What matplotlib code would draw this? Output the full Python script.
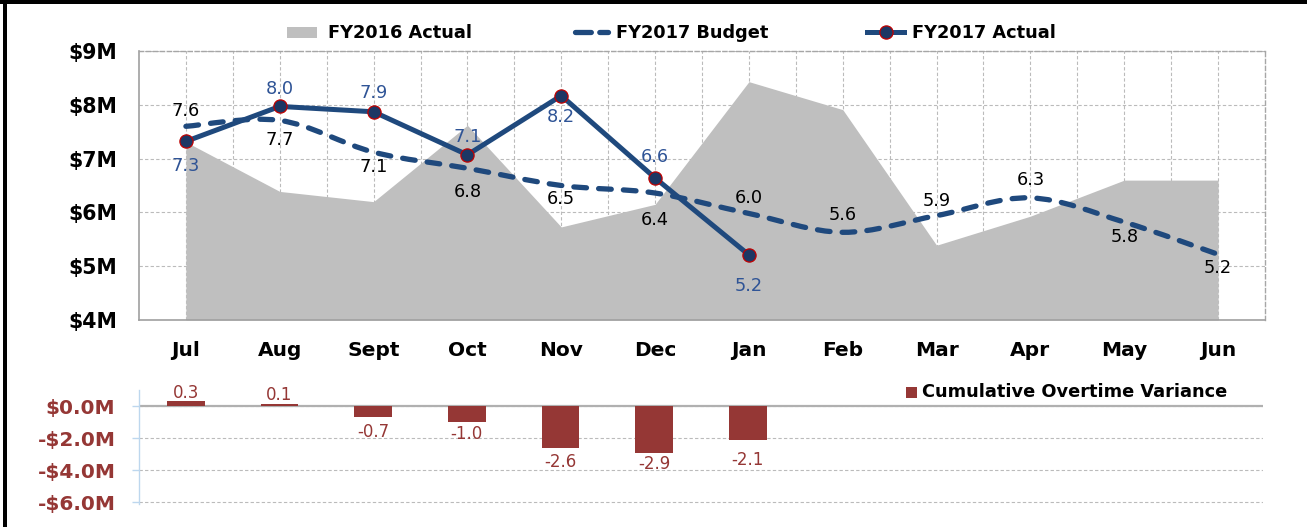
import numpy as np
import matplotlib
matplotlib.use("Agg")
import matplotlib.pyplot as plt
from matplotlib.path import Path
from matplotlib.patches import PathPatch, Rectangle
from matplotlib.lines import Line2D

# ---------------- data ----------------
months = ["Jul", "Aug", "Sept", "Oct", "Nov", "Dec", "Jan", "Feb", "Mar", "Apr", "May", "Jun"]
fy2016_actual = [7.31, 6.39, 6.20, 7.62, 5.73, 6.15, 8.43, 7.91, 5.39, 5.93, 6.60, 6.60]
fy2017_budget = [7.60, 7.71, 7.12, 6.82, 6.50, 6.36, 5.98, 5.63, 5.94, 6.27, 5.82, 5.22]
fy2017_actual = [7.32, 7.97, 7.87, 7.07, 8.17, 6.64, 5.21]
ot_variance = [0.3, 0.1, -0.7, -1.0, -2.6, -2.9, -2.1]

top_ticks = [4, 5, 6, 7, 8, 9]
top_tick_labels = ["$4M", "$5M", "$6M", "$7M", "$8M", "$9M"]
bot_ticks = [0, -2, -4, -6]
bot_tick_labels = ["$0.0M", "-$2.0M", "-$4.0M", "-$6.0M"]

# label offsets (pixels, + = up)
actual_lbl_off = [-25, 17, 19, 18, -21, 21, -31]
budget_lbl_off = [15, -20, -15, -24, -14, -27, 15, 17, 15, 18, -15, -14]
var_lbl_off = [8, 9, -15, -12, -14, -11, -20]

# ---------------- style ----------------
W, H = 1307, 527
NAVY = "#1F497D"
MARKER_FACE = "#1C3764"
RED_EDGE = "#C00000"
GRAY_AREA = "#BFBFBF"
GRID = "#BBBBBB"
FRAME = "#A6A6A6"
BAR = "#953735"
LBL_BLUE = "#2F5496"
DASH_GRID = (0, (3.0, 2.0))
BUDGET_DASH = (0, (2.4, 2.3))

plt.rcParams["font.family"] = ["DejaVu Sans"]

fig = plt.figure(figsize=(W / 100, H / 100), dpi=100)


def fx(px):
    return px / W


def fy(py):
    return 1 - py / H


# ---------------- top chart ----------------
ax = fig.add_axes([fx(139), fy(320), fx(1265) - fx(139), fy(51) - fy(320)])
x = np.arange(len(months))
ax.set_xlim(-0.5, 11.5)
ax.set_ylim(4, 9)

ax.fill_between(x, fy2016_actual, 4, color=GRAY_AREA, lw=0, zorder=1)

# smoothed budget line (Bezier through data points)
pts = np.column_stack([x, fy2017_budget]).astype(float)
n = len(pts)
verts = [tuple(pts[0])]
codes = [Path.MOVETO]
for i in range(n - 1):
    p0 = pts[i - 1] if i > 0 else pts[i]
    p1 = pts[i]
    p2 = pts[i + 1]
    p3 = pts[i + 2] if i + 2 < n else pts[i + 1]
    c1 = p1 + (p2 - p0) / 6.0
    c2 = p2 - (p3 - p1) / 6.0
    verts += [tuple(c1), tuple(c2), tuple(p2)]
    codes += [Path.CURVE4] * 3
bpatch = PathPatch(Path(verts, codes), fill=False, edgecolor=NAVY, lw=3.8,
                   linestyle=BUDGET_DASH, zorder=3)
bpatch.set_capstyle("round")
ax.add_patch(bpatch)

ax.plot(x[:len(fy2017_actual)], fy2017_actual, color=NAVY, lw=3.6,
        marker="o", ms=9.5, mfc=MARKER_FACE, mec=RED_EDGE, mew=0.9, zorder=4)

for xi, v, off in zip(x, fy2017_budget, budget_lbl_off):
    ax.annotate(f"{v:.1f}", (xi, v), xytext=(0, off), textcoords="offset pixels",
                ha="center", va="center", fontsize=12.8, color="black", zorder=5)
for xi, v, off in zip(x, fy2017_actual, actual_lbl_off):
    ax.annotate(f"{v:.1f}", (xi, v), xytext=(0, off), textcoords="offset pixels",
                ha="center", va="center", fontsize=12.8, color=LBL_BLUE, zorder=5)

ax.set_xticks(x)
ax.set_xticklabels(months, fontsize=14.5, fontweight="bold")
ax.set_xticks(np.arange(0.5, 11, 1), minor=True)
ax.set_yticks(top_ticks)
ax.set_yticklabels(top_tick_labels, fontsize=14.8, fontweight="bold")
ax.tick_params(axis="both", which="both", length=0)
ax.tick_params(axis="y", pad=16)
ax.tick_params(axis="x", pad=15)
ax.set_axisbelow(True)
ax.grid(True, which="both", axis="x", color=GRID, lw=0.8, linestyle=DASH_GRID, zorder=0)
ax.grid(True, which="major", axis="y", color=GRID, lw=0.8, linestyle=DASH_GRID, zorder=0)
for s in ["top", "right"]:
    ax.spines[s].set_color(FRAME)
    ax.spines[s].set_linestyle(DASH_GRID)
    ax.spines[s].set_linewidth(1.0)
for s in ["left", "bottom"]:
    ax.spines[s].set_color("#A0A0A0")
    ax.spines[s].set_linewidth(1.2)

# top legend (drawn manually in figure coordinates)
fig.add_artist(Rectangle((fx(287), fy(37.5)), fx(316.5) - fx(287), fy(26.5) - fy(37.5),
                         transform=fig.transFigure, color=GRAY_AREA, lw=0))
fig.text(fx(328), fy(32.5), "FY2016 Actual", fontsize=12.8, fontweight="bold", va="center", ha="left")
lb = Line2D([fx(575), fx(608)], [fy(32), fy(32)], transform=fig.transFigure, color=NAVY,
            lw=3.8, linestyle=(0, (3.0, 1.6)), dash_capstyle="round")
fig.add_artist(lb)
fig.text(fx(616.5), fy(32.5), "FY2017 Budget", fontsize=12.8, fontweight="bold", va="center", ha="left")
la = Line2D([fx(867), fx(904)], [fy(32), fy(32)], transform=fig.transFigure, color=NAVY, lw=3.6)
fig.add_artist(la)
lm = Line2D([fx(885.5)], [fy(32)], transform=fig.transFigure, marker="o", ms=9.5,
            mfc=MARKER_FACE, mec=RED_EDGE, mew=0.9, lw=0)
fig.add_artist(lm)
fig.text(fx(912), fy(32.5), "FY2017 Actual", fontsize=12.8, fontweight="bold", va="center", ha="left")

# ---------------- bottom chart ----------------
axb = fig.add_axes([fx(139), fy(503.5), fx(1263) - fx(139), fy(390) - fy(503.5)])
axb.set_xlim(-0.5, 11.5)
axb.set_ylim(-6.075, 1.0)
xb = np.arange(len(ot_variance))
axb.bar(xb, ot_variance, width=0.4, color=BAR, zorder=3)
for xi, v, off in zip(xb, ot_variance, var_lbl_off):
    axb.annotate(f"{v:.1f}", (xi, v), xytext=(0, off), textcoords="offset pixels",
                 ha="center", va="center", fontsize=12, color=BAR, zorder=5)
axb.set_yticks(bot_ticks)
axb.set_yticklabels(bot_tick_labels, fontsize=14.5, fontweight="bold", color=BAR)
axb.set_xticks([])
axb.tick_params(axis="y", length=5, color="#BDD7EE", width=1, pad=12)
axb.set_axisbelow(True)
axb.grid(True, axis="y", color=GRID, lw=0.8, linestyle=DASH_GRID, zorder=0)
axb.axhline(0, color="#B0B0B0", lw=1.6, zorder=2)
for s in ["top", "right", "bottom"]:
    axb.spines[s].set_visible(False)
axb.spines["left"].set_color("#BDD7EE")
axb.spines["left"].set_linewidth(1.0)

fig.add_artist(Rectangle((fx(906), fy(397.5)), fx(917) - fx(906), fy(386.5) - fy(397.5),
                         transform=fig.transFigure, color=BAR, lw=0))
fig.text(fx(922.5), fy(392), "Cumulative Overtime Variance", fontsize=12.8, fontweight="bold",
         va="center", ha="left")

# ---------------- frame pieces ----------------
fig.add_artist(Rectangle((0, fy(4)), 1, fy(0) - fy(4), transform=fig.transFigure, color="black", lw=0))
fig.add_artist(Rectangle((fx(3), 0), fx(3.5), 1, transform=fig.transFigure, color="black", lw=0))

fig.savefig("out.png", dpi=100)
